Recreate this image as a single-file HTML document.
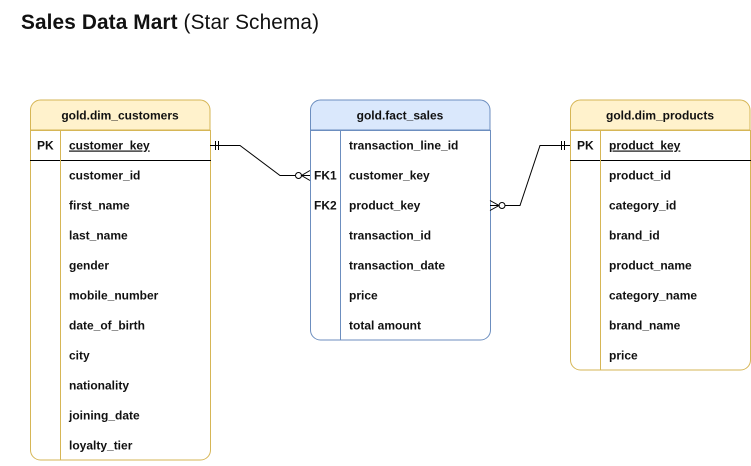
<!DOCTYPE html>
<html><head><style>body{margin:0;background:#fff}svg text{font-family:"Liberation Sans",Arial,sans-serif;font-size:12px;fill:#111}</style></head><body>
<svg width="751" height="461" viewBox="0 0 751 461">
<text x="21" y="29" style="font-size:20.8px" textLength="298"><tspan font-weight="bold">Sales Data Mart</tspan> (Star Schema)</text>
<!-- customers -->
<g>
<path d="M30.5,130 V110 a10,10 0 0 1 10,-10 H200 a10,10 0 0 1 10,10 V130 Z" fill="#fff2cc" stroke="#d6b656"/>
<rect x="30.5" y="130" width="180" height="330" fill="#fff" stroke="none"/>
<path d="M30.5,130 V450 a10,10 0 0 0 10,10 H200.5 a10,10 0 0 0 10,-10 V130" fill="none" stroke="#d6b656"/>
<line x1="30.5" y1="130.5" x2="210.5" y2="130.5" stroke="#d6b656"/>
<line x1="30" y1="160.5" x2="211" y2="160.5" stroke="#000"/>
<line x1="60.5" y1="130" x2="60.5" y2="460" stroke="#d6b656"/>
<text x="120" y="119.5" text-anchor="middle" font-weight="bold">gold.dim_customers</text>
<text x="37" y="149.5" font-weight="bold">PK</text>
<text x="69" y="149.5" font-weight="bold" text-decoration="underline">customer_key</text>
<g font-weight="bold">
<text x="69" y="179.5">customer_id</text><text x="69" y="209.5">first_name</text><text x="69" y="239.5">last_name</text><text x="69" y="269.5">gender</text><text x="69" y="299.5">mobile_number</text><text x="69" y="329.5">date_of_birth</text><text x="69" y="359.5">city</text><text x="69" y="389.5">nationality</text><text x="69" y="419.5">joining_date</text><text x="69" y="449.5">loyalty_tier</text>
</g></g>
<!-- fact -->
<g>
<path d="M310.5,130 V110 a10,10 0 0 1 10,-10 H480 a10,10 0 0 1 10,10 V130 Z" fill="#dae8fc" stroke="#6c8ebf"/>
<path d="M310.5,130 V330 a10,10 0 0 0 10,10 H480.5 a10,10 0 0 0 10,-10 V130" fill="#fff" stroke="#6c8ebf"/>
<line x1="310.5" y1="130.5" x2="490.5" y2="130.5" stroke="#6c8ebf"/>
<line x1="340.5" y1="130" x2="340.5" y2="340" stroke="#6c8ebf"/>
<text x="400" y="119.5" text-anchor="middle" font-weight="bold">gold.fact_sales</text>
<g font-weight="bold">
<text x="314" y="179.5">FK1</text><text x="314" y="209.5">FK2</text>
<text x="349" y="149.5">transaction_line_id</text><text x="349" y="179.5">customer_key</text><text x="349" y="209.5">product_key</text><text x="349" y="239.5">transaction_id</text><text x="349" y="269.5">transaction_date</text><text x="349" y="299.5">price</text><text x="349" y="329.5">total amount</text>
</g></g>
<!-- products -->
<g>
<path d="M570.5,130 V110 a10,10 0 0 1 10,-10 H740 a10,10 0 0 1 10,10 V130 Z" fill="#fff2cc" stroke="#d6b656"/>
<path d="M570.5,130 V360 a10,10 0 0 0 10,10 H740.5 a10,10 0 0 0 10,-10 V130" fill="#fff" stroke="#d6b656"/>
<line x1="570.5" y1="130.5" x2="750.5" y2="130.5" stroke="#d6b656"/>
<line x1="570" y1="160.5" x2="751" y2="160.5" stroke="#000"/>
<line x1="600.5" y1="130" x2="600.5" y2="370" stroke="#d6b656"/>
<text x="660" y="119.5" text-anchor="middle" font-weight="bold">gold.dim_products</text>
<text x="577" y="149.5" font-weight="bold">PK</text>
<text x="609" y="149.5" font-weight="bold" text-decoration="underline">product_key</text>
<g font-weight="bold">
<text x="609" y="179.5">product_id</text><text x="609" y="209.5">category_id</text><text x="609" y="239.5">brand_id</text><text x="609" y="269.5">product_name</text><text x="609" y="299.5">category_name</text><text x="609" y="329.5">brand_name</text><text x="609" y="359.5">price</text>
</g></g>
<!-- connectors -->
<g fill="none" stroke="#000" stroke-width="1">
<path d="M210,145.5 H240 L280,175.5 H295"/>
<line x1="215.5" y1="141" x2="215.5" y2="150"/><line x1="218.5" y1="141" x2="218.5" y2="150"/>
<circle cx="298.5" cy="175.5" r="3" fill="#fff"/>
<path d="M310,170.5 L301.5,175.5 L310,180.5 M301.5,175.5 H310"/>
<path d="M505,205.5 H520 L540,145.5 H570"/>
<line x1="561.5" y1="141" x2="561.5" y2="150"/><line x1="564.5" y1="141" x2="564.5" y2="150"/>
<circle cx="502" cy="205.5" r="3" fill="#fff"/>
<path d="M490,200.5 L499,205.5 L490,210.5 M490,205.5 H499"/>
</g>
</svg>
</body></html>
